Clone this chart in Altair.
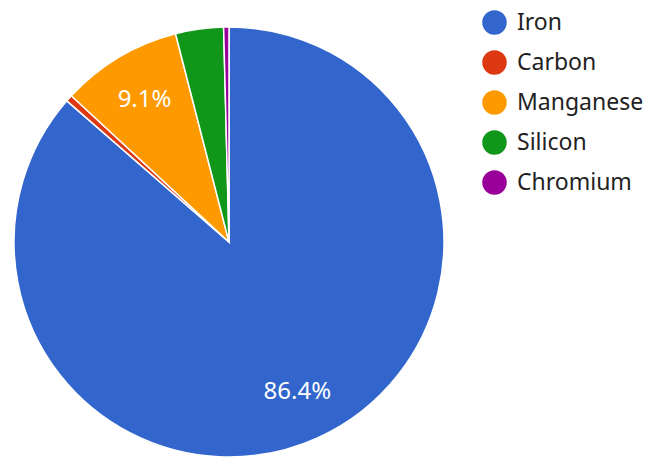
import altair as alt
import pandas as pd

elements = ["Iron", "Carbon", "Manganese", "Silicon", "Chromium"]
percent = [86.4, 0.5, 9.1, 3.6, 0.4]
colors = ["#3366cc", "#dc3912", "#ff9900", "#109618", "#990099"]
labels = ["86.4%", "", "9.1%", "", ""]

df = pd.DataFrame({"element": elements, "value": percent, "label": labels,
                   "order": list(range(len(elements)))})

FONT = "Noto Sans"

base = alt.Chart(df).encode(
    theta=alt.Theta("value:Q", stack=True),
    order=alt.Order("order:Q"),
)

pie = base.mark_arc(stroke="white", strokeWidth=1.5).encode(
    color=alt.Color(
        "element:N",
        scale=alt.Scale(domain=elements, range=colors),
        sort=elements,
        legend=alt.Legend(
            title=None,
            orient="none",
            legendX=468,
            legendY=-17,
            symbolType="circle",
            symbolSize=600,
            symbolStrokeWidth=0,
            labelFont=FONT,
            labelFontSize=23,
            labelColor="#222222",
            labelOffset=10,
            rowPadding=15,
            padding=0,
            labelLimit=300,
        ),
    )
)

text = base.mark_text(radius=165, font=FONT, fontSize=24, color="white").encode(
    text="label:N"
)

chart = (
    (pie + text)
    .properties(width=430, height=430, padding={"left": 3, "top": 2, "right": 0, "bottom": 0})
    .configure_view(stroke=None)
)

chart.save("out.html", embed_options={"renderer": "svg", "actions": False})
